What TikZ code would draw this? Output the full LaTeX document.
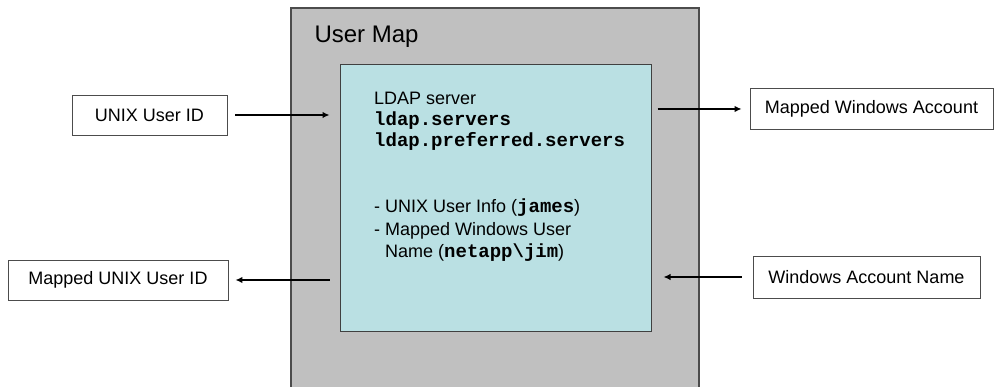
\documentclass[tikz,border=0pt]{standalone}
\usepackage{fontspec}
\setmainfont{Liberation Sans}
\setmonofont{Liberation Mono}
\usetikzlibrary{arrows.meta}

\begin{document}
\begin{tikzpicture}[x=1pt,y=-1pt]
	\def\mapframe{(291,387) -- (291,8) -- (699,8) -- (699,387)} %frame, open at the bottom

	\definecolor{map area}{RGB}{192,192,192}
	\definecolor{server area}{RGB}{186,224,227}
	\colorlet{box edge}{black!70}

	\tikzset{
		idbox/.style={draw=box edge, fill=white, line width=0.8pt, inner sep=0pt,
			minimum height=40pt, font=\fontsize{18}{21}\selectfont},
		serverbox/.style={draw=black!75, fill=server area, line width=1pt, inner sep=0pt,
			minimum width=311pt, minimum height=267pt},
		flow/.style={line width=1.7pt, -{Latex[length=7pt,width=6.5pt]}},
	}
	\newcommand{\cmd}[1]{{\fontsize{19}{21}\selectfont\ttfamily\bfseries #1}}

	\useasboundingbox (0,0) rectangle (997,387);

	% user map frame
	\fill[map area] \mapframe -- cycle;
	\draw[black!70, line width=1.5pt] \mapframe;
	\node[anchor=base west, font=\fontsize{24}{28}\selectfont] (title) at (311,43) {User Map};

	% server box and its contents (base = last line)
	\node[serverbox] (ldap) at (495.5,198) {};
	\node[anchor=base west, align=left, inner sep=0pt, font=\fontsize{18}{21}\selectfont] (conf) at (374,147)
		{LDAP server\\ \cmd{ldap.servers}\\ \cmd{ldap.preferred.servers}};
	\node[anchor=base west, align=left, inner sep=0pt, font=\fontsize{18}{22.5}\selectfont] (info) at (374,258)
		{- UNIX User Info (\cmd{james})\\ - Mapped Windows User\\ \hspace*{11pt}Name (\cmd{netapp\textbackslash jim})};

	% id boxes
	\node[idbox, minimum width=155pt] (uid) at (149.5,115) {UNIX User ID};
	\node[idbox, minimum width=220pt] (muid) at (118,280) {Mapped UNIX User ID};
	\node[idbox, minimum width=243pt, minimum height=41pt] (mwa) at (871.5,109) {Mapped Windows Account};
	\node[idbox, minimum width=227pt, minimum height=42pt] (wan) at (866.5,277) {Windows Account Name};

	% arrows in and out of the map
	\draw[flow, shorten <=8pt, shorten >=10pt] (uid.east) -- (uid.east -| ldap.west);
	\draw[flow, shorten <=10pt, shorten >=7pt] (ldap.west |- muid.east) -- (muid.east);
	\draw[flow, shorten <=6pt, shorten >=8pt] (ldap.east |- mwa.west) -- (mwa.west);
	\draw[flow, shorten <=11pt, shorten >=12pt] (wan.west) -- (wan.west -| ldap.east);
\end{tikzpicture}
\end{document}
